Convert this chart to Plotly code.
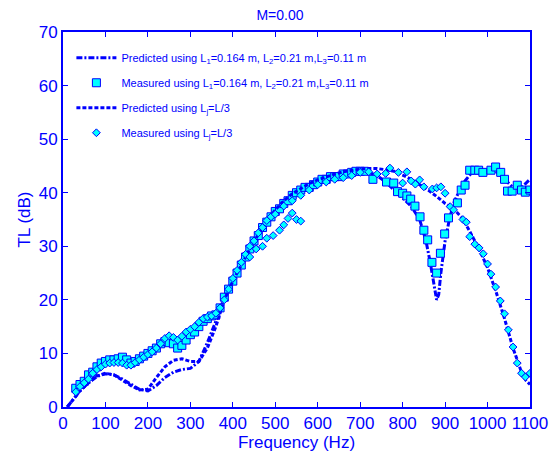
import plotly.graph_objects as go

# Predicted using L1=0.164, L2=0.21, L3=0.11 (dash-dot)
pred1_f = [10, 20, 40, 60, 80, 100, 120, 140, 160, 180, 200, 220, 240, 260, 280, 300, 320, 340, 360, 380,
           400, 420, 440, 460, 480, 500, 520, 540, 560, 580, 600, 620, 640, 660, 680, 700, 720, 740, 760,
           780, 800, 820, 840, 855, 865, 875, 880, 885, 890, 900, 910, 920, 940, 960, 980, 1000, 1020, 1040,
           1060, 1080, 1100]
pred1_tl = [0, 1, 3, 4.5, 5.7, 6.2, 6.0, 5.2, 4.2, 3.3, 3.0, 4.0, 5.5, 6.5, 7.0, 7.2, 8.5, 12, 16, 20.5,
            23.5, 26.5, 29.5, 32, 34.5, 36.5, 38, 39.5, 40.5, 41.5, 42.3, 42.8, 43.2, 43.6, 43.9, 44, 43.8,
            43.2, 42, 40.5, 39, 37.5, 35, 31, 27, 22, 20, 21, 25, 31, 35, 38, 41.5, 43.5, 44, 44.2, 44,
            42.5, 41, 41, 42.5]

# Measured using L1=0.164, L2=0.21, L3=0.11 (squares)
meas1_f = [30, 40, 50, 60, 70, 80, 90, 100, 110, 120, 130, 140, 150, 160, 170, 180, 190, 200, 210, 220,
           230, 240, 250, 260, 270, 280, 290, 300, 310, 320, 330, 340, 350, 360, 370, 380, 390, 400, 410,
           420, 430, 440, 450, 460, 470, 480, 490, 500, 510, 520, 530, 540, 550, 560, 570, 580, 590, 600,
           610, 620, 630, 640, 650, 660, 670, 680, 690, 700, 710, 730, 762, 779, 788, 800, 810, 819, 829,
           841, 850, 859, 869, 880, 889, 899, 908, 929, 938, 947, 958, 970, 979, 989, 1008, 1019, 1031,
           1040, 1047, 1058, 1070, 1080, 1089, 1100]
meas1_tl = [3.5, 4.2, 4.8, 6.0, 6.5, 7.5, 8.2, 8.5, 8.8, 8.8, 9.0, 9.3, 8.8, 8.2, 8.5, 9.0, 9.5, 10, 10.5,
            11, 11.8, 12.2, 12, 11.8, 11, 11.5, 12.5, 13.5, 14, 15, 16, 16.5, 17, 17.2, 18.5, 20.5, 22,
            23.5, 25, 26.5, 28, 29.5, 31, 32, 33.5, 34.5, 35.5, 36.5, 37, 38, 38.5, 39.5, 40, 40.5, 41,
            41, 41.5, 42, 42.5, 42.5, 43, 43, 43, 43.5, 43.5, 43.8, 44, 44, 44, 42.5, 42, 41.8, 40.2,
            39.9, 39.4, 38.8, 37.5, 35.5, 33, 31.2, 27, 25, 28.7, 32.3, 35.3, 38.1, 40.5, 41.4, 44.2,
            44.2, 44.2, 43.8, 44.2, 44.8, 43.8, 42.5, 40.3, 40.3, 41.4, 40.5, 40.1, 40.5]

# Predicted using Lj=L/3 (dashed)
pred2_f = [10, 20, 40, 60, 80, 100, 120, 140, 160, 180, 200, 220, 240, 260, 280, 300, 320, 340, 360, 380,
           400, 420, 440, 460, 480, 500, 520, 540, 560, 580, 600, 620, 640, 660, 680, 700, 720, 740, 760,
           780, 800, 820, 840, 860, 880, 900, 920, 940, 960, 980, 1000, 1020, 1040, 1060, 1080, 1090, 1100]
pred2_tl = [0, 1, 3, 4.5, 5.8, 6.3, 6.0, 5.0, 4.0, 3.2, 3.3, 5.5, 7.5, 8.7, 9.0, 8.5, 8.5, 11, 15, 20,
            23.5, 26.5, 29.5, 32.2, 34.7, 36.8, 38.5, 39.8, 40.8, 41.7, 42.4, 43, 43.5, 43.9, 44.2, 44.4,
            44.5, 44.5, 44.3, 44, 43.3, 42.5, 41.5, 40.5, 39.3, 38, 37, 35.3, 32.5, 29.5, 26, 21.5, 16.5,
            11, 6.5, 5, 4.2]

# Measured using Lj=L/3 (diamonds)
meas2_f = [30, 40, 50, 60, 70, 80, 90, 100, 110, 120, 130, 140, 150, 160, 170, 180, 190, 200, 210, 220,
           230, 240, 250, 260, 270, 280, 290, 300, 310, 320, 330, 340, 350, 360, 370, 380, 390, 400, 410,
           420, 430, 440, 450, 460, 470, 480, 490, 500, 520, 540, 560, 580, 600, 620, 640, 660, 680, 700,
           720, 740, 760, 770, 790, 800, 810, 820, 830, 840, 850, 870, 880, 890, 900, 912, 920, 942, 950,
           958, 970, 980, 990, 1000, 1008, 1019, 1030, 1040, 1049, 1060, 1070, 1080, 1089, 1100,
           440, 455, 470, 480, 495, 510, 520, 530, 540, 550, 560]
meas2_tl = [2.8, 3.8, 4.5, 5.2, 6.3, 7.0, 7.5, 8.0, 8.2, 8.3, 8.3, 8.2, 7.8, 7.8, 8.3, 8.8, 9.3, 9.8, 10.3,
            11, 11.8, 12.8, 13.3, 13.0, 12.5, 13.2, 14, 14.5, 15, 15.8, 16.5, 16.8, 17, 17.5, 18.5, 20, 22,
            24, 25.5, 27, 28.5, 30, 31, 32.5, 33.5, 34.8, 35.5, 36, 37.5, 38.5, 39.5, 40.5, 41.5, 42, 42.5,
            42.8, 43.2, 43.8, 43.9, 43.5, 43.6, 44.6, 43.8, 41.8, 43.9, 42.2, 41.6, 42.4, 41.1, 40.7, 40.9,
            41.1, 39.9, 37.4, 36.8, 35, 34.5, 31.8, 30.4, 29.7, 28.6, 26.7, 24.8, 22.4, 19.8, 17.4, 14.4,
            11.2, 8.2, 6.3, 5.6, 6.3,
            28, 29.5, 30, 31.5, 32, 33, 34, 35.2, 36.2, 35, 34.7]

x_ticks = [0, 100, 200, 300, 400, 500, 600, 700, 800, 900, 1000, 1100]
y_ticks = [0, 10, 20, 30, 40, 50, 60, 70]

BLUE = "#0000ff"
CYAN = "#00ffff"
FONT = "Liberation Sans, Arial, sans-serif"

fig = go.Figure()
fig.add_trace(go.Scatter(
    x=pred1_f, y=pred1_tl, mode="lines", line=dict(color=BLUE, width=3, dash="6px,2px,2px,2px"),
    name="Predicted using L<sub>1</sub>=0.164 m, L<sub>2</sub>=0.21 m,L<sub>3</sub>=0.11 m",
    legendgroup="a"))
fig.add_trace(go.Scatter(
    x=meas1_f, y=meas1_tl, mode="markers",
    marker=dict(symbol="square", size=8, color=CYAN, line=dict(color=BLUE, width=1)),
    name="Measured using L<sub>1</sub>=0.164 m, L<sub>2</sub>=0.21 m,L<sub>3</sub>=0.11 m",
    legendgroup="b"))
fig.add_trace(go.Scatter(
    x=pred2_f, y=pred2_tl, mode="lines", line=dict(color=BLUE, width=3, dash="4px,2px"),
    name="Predicted using L<sub>j</sub>=L/3", legendgroup="c"))
fig.add_trace(go.Scatter(
    x=meas2_f, y=meas2_tl, mode="markers",
    marker=dict(symbol="diamond", size=6, color=CYAN, line=dict(color=BLUE, width=1)),
    name="Measured using L<sub>j</sub>=L/3", legendgroup="d"))

axis_common = dict(
    showgrid=False, zeroline=False, showline=True, linecolor=BLUE, linewidth=2, mirror="ticks",
    ticks="inside", ticklen=5, tickcolor=BLUE, tickwidth=1,
    tickfont=dict(family=FONT, size=17, color=BLUE),
)
fig.update_layout(
    width=560, height=462,
    margin=dict(l=63, r=22, t=32, b=55),
    paper_bgcolor="white", plot_bgcolor="white",
    title=dict(text="M=0.00", x=0.5, xanchor="center", y=0.978, yanchor="top",
               font=dict(family=FONT, size=14, color=BLUE)),
    xaxis=dict(range=[0, 1100], tickvals=x_ticks, ticktext=[str(v) for v in x_ticks],
               title=dict(text="Frequency (Hz)", font=dict(family=FONT, size=17, color=BLUE), standoff=0),
               **axis_common),
    yaxis=dict(range=[0, 70], tickvals=y_ticks,
               title=dict(text="TL (dB)", font=dict(family=FONT, size=17, color=BLUE), standoff=4),
               **axis_common),
    legend=dict(x=0.018, y=0.97, xanchor="left", yanchor="top", bgcolor="rgba(0,0,0,0)",
                font=dict(family=FONT, size=11, color=BLUE), tracegroupgap=6, itemwidth=40),
    showlegend=True,
)
fig.write_html("out.html")
